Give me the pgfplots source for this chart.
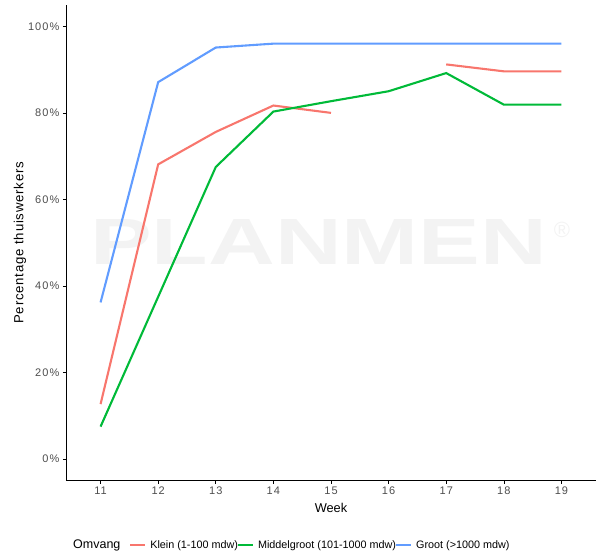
\documentclass[border=0pt]{standalone}
\usepackage{fontspec}
\setmainfont{Liberation Sans}
\newfontfamily\spaced[LetterSpace=6]{Liberation Sans}
\newfontfamily\spacedt[LetterSpace=10]{Liberation Sans}
\usepackage{pgfplots}
\pgfplotsset{compat=1.18}
\definecolor{cklein}{HTML}{F8766D}
\definecolor{cmid}{HTML}{00BA38}
\definecolor{cgroot}{HTML}{619CFF}
\definecolor{tickgrey}{HTML}{4D4D4D}
\definecolor{wm}{HTML}{F3F3F3}
\begin{document}
\begin{tikzpicture}
\useasboundingbox (-66pt,-73.3pt) rectangle (538pt,480.7pt);
\node[anchor=south west, inner sep=0pt, text=wm] at (24pt,215.7pt) {\resizebox{457pt}{45pt}{\bfseries PLANMEN}};
\node[text=wm, inner sep=0pt, font=\fontsize{22}{22}\selectfont] at (496pt,250.7pt) {®};
\begin{axis}[
  scale only axis,
  width=530pt, height=476pt,
  xmin=10.4, xmax=19.6,
  ymin=-5, ymax=105,
  axis lines*=left,
  axis line style={line width=0.6pt, black},
  xtick={11,...,19},
  ytick={0,20,...,100},
  tick align=outside,
  major tick length=3pt,
  tick style={line width=0.6pt, black},
  /pgf/number format/assume math mode=true,
  yticklabel={\pgfmathprintnumber{\tick}\%},
  ticklabel style={font=\spacedt\fontsize{11}{12}\selectfont, text=tickgrey},
  xticklabel style={yshift=0.5pt},
  xlabel={Week},
  ylabel={Percentage thuiswerkers},
  every axis x label/.style={at={(axis description cs:0.5,0)}, yshift=-27.4pt, anchor=center, font=\fontsize{12.8}{14}\selectfont},
  every axis y label/.style={at={(axis description cs:0,0.5)}, xshift=-46pt, rotate=90, anchor=center, font=\spaced\fontsize{13.2}{14}\selectfont},
  unbounded coords=jump,
  legend columns=-1,
  legend image code/.code={\draw[#1, line width=2.1pt] (0pt,0pt) -- (15pt,0pt);},
  legend style={draw=none, fill=none, inner sep=0pt, at={(axis description cs:0.1189,-0.135)}, anchor=west,
    font=\fontsize{10.8}{13}\selectfont,
    /tikz/every odd column/.append style={column sep=2pt},
    /tikz/every even column/.append style={column sep=-3pt}},
]
\addplot[cklein, line width=2.1pt] coordinates {
 (11,12.7) (12,68.1) (13,75.6) (14,81.7) (15,80.0) (16,nan) (17,91.2) (18,89.6) (19,89.6)};
\addlegendentry{Klein (1-100 mdw)}
\addplot[cmid, line width=2.1pt] coordinates {
 (11,7.5) (12,37.5) (13,67.5) (14,80.3) (15,82.7) (16,85.0) (17,89.2) (18,81.9) (19,81.9)};
\addlegendentry{Middelgroot (101-1000 mdw)}
\addplot[cgroot, line width=2.1pt] coordinates {
 (11,36.2) (12,87.1) (13,95.1) (14,96.0) (15,96.0) (16,96.0) (17,96.0) (18,96.0) (19,96.0)};
\addlegendentry{Groot (>1000 mdw)}
\end{axis}
\node[anchor=west, inner sep=0pt, font=\fontsize{12.5}{14}\selectfont] at (7pt,-64.3pt) {Omvang};
\end{tikzpicture}
\end{document}
